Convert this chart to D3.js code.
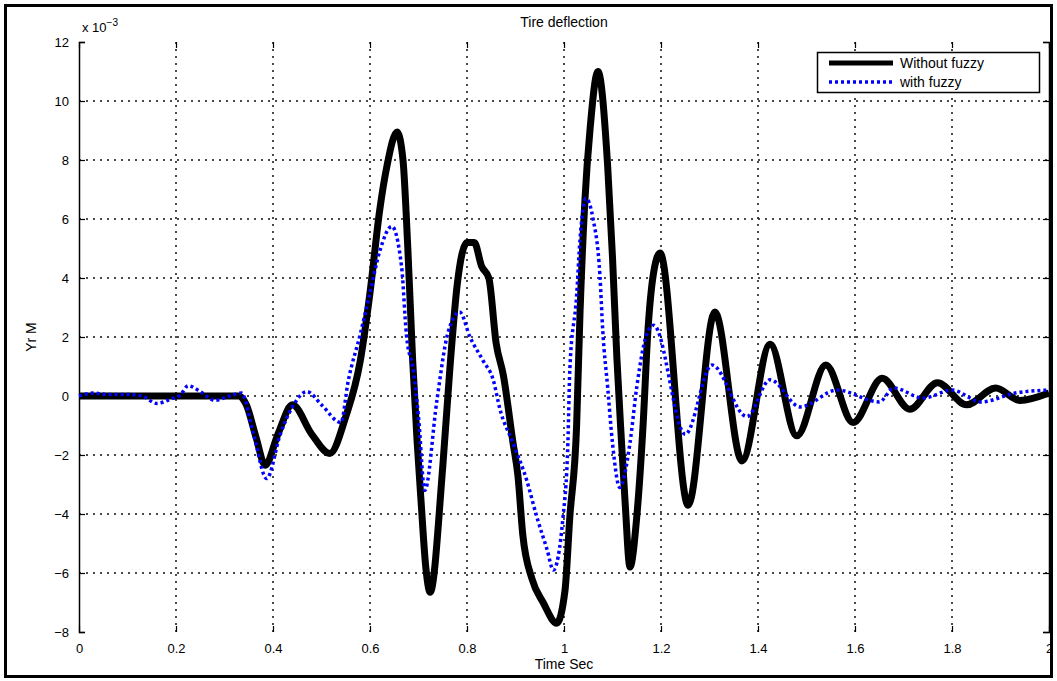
<!DOCTYPE html>
<html><head><meta charset="utf-8">
<script src="https://cdn.jsdelivr.net/npm/d3@7"></script>
<style>body{margin:0;background:#fff}svg{display:block}text{font-family:"Liberation Sans",Arial,sans-serif;fill:#000}</style>
</head><body><svg id="c" width="1057" height="681"></svg>
<script>
const titleText = "Tire deflection";
const xLabel = "Time Sec";
const yLabel = "Yr M";
const xTicks = [0,0.2,0.4,0.6,0.8,1,1.2,1.4,1.6,1.8,2];
const xTickLabels = ["0","0.2","0.4","0.6","0.8","1","1.2","1.4","1.6","1.8","2"];
const yTicks = [-8,-6,-4,-2,0,2,4,6,8,10,12];
const yTickLabels = ["\u22128","\u22126","\u22124","\u22122","0","2","4","6","8","10","12"];
const seriesNames = ["Without fuzzy","with fuzzy"];

const tBlack = [0,0.33,0.345,0.365,0.384,0.41,0.44,0.48,0.517,0.55,0.58,0.60,0.62,0.635,0.656,0.668,0.678,0.688,0.697,0.705,0.715,0.724,0.75,0.765,0.78,0.80,0.815,0.83,0.845,0.86,0.875,0.895,0.905,0.915,0.934,0.957,0.985,1.002,1.012,1.026,1.033,1.043,1.054,1.07,1.09,1.10,1.109,1.118,1.126,1.136,1.15,1.163,1.173,1.184,1.198,1.256,1.311,1.367,1.425,1.48,1.54,1.596,1.656,1.713,1.77,1.83,1.89,1.94,2.0];
const vBlack = [0,0,-0.3,-1.4,-2.35,-1.3,-0.3,-1.3,-1.95,-0.7,1.2,3.5,6.3,7.8,8.95,8.0,5.0,1.2,-1.5,-3.5,-5.8,-6.65,-2.4,1.0,3.8,5.2,5.2,4.4,4.0,1.8,0.7,-1.6,-2.7,-4.7,-6.2,-7.0,-7.7,-6.6,-4.1,-1.0,2.8,6.6,9.1,11.0,7.8,4.7,1.3,-1.4,-3.6,-5.8,-4.1,-1.0,2.2,4.1,4.85,-3.7,2.85,-2.2,1.75,-1.35,1.05,-0.9,0.6,-0.45,0.45,-0.3,0.27,-0.15,0.1];

const tBlue = [0,0.03,0.06,0.1,0.13,0.16,0.19,0.21,0.225,0.25,0.28,0.31,0.335,0.36,0.387,0.415,0.44,0.47,0.50,0.54,0.555,0.58,0.60,0.62,0.645,0.665,0.675,0.69,0.70,0.713,0.738,0.76,0.785,0.806,0.833,0.854,0.868,0.895,0.923,0.944,0.965,0.978,0.998,1.008,1.012,1.026,1.033,1.045,1.06,1.074,1.08,1.09,1.10,1.115,1.136,1.15,1.173,1.185,1.25,1.305,1.377,1.425,1.487,1.563,1.65,1.68,1.74,1.80,1.86,1.93,2.0];
const vBlue = [0,0.1,0.05,0.05,0,-0.25,-0.1,0.05,0.35,0.15,-0.15,0,0.1,-1.3,-2.8,-1.3,-0.37,0.15,-0.3,-0.9,0.5,2.1,3.5,4.9,5.75,4.4,2.1,0.8,-0.7,-3.2,-0.14,2.1,2.85,2.0,1.2,0.55,-0.45,-1.6,-2.85,-4.1,-5.2,-5.9,-4.1,-1.6,0.9,3.4,5.3,6.7,6.0,4.1,2.2,0.3,-1.6,-3.1,-1.6,0.3,2.2,2.4,-1.3,1.05,-0.7,0.55,-0.37,0.2,-0.2,0.27,-0.07,0.2,-0.2,0.1,0.2];

const svg = d3.select("#c");
const L = 79, R = 1049, T = 42, B = 632;
const x = d3.scaleLinear().domain([0,2]).range([L,R]);
const y = d3.scaleLinear().domain([-8,12]).range([B,T]);

// outer frame
svg.append("rect").attr("x",5.5).attr("y",5.5).attr("width",1046).attr("height",671)
  .attr("fill","none").attr("stroke","#000").attr("stroke-width",3);

// grid
const grid = svg.append("g").attr("stroke","#111").attr("stroke-width",1.5).attr("stroke-dasharray","2,5");
grid.selectAll(".gx").data(xTicks.slice(1,-1)).join("line")
  .attr("x1",d=>x(d)).attr("x2",d=>x(d)).attr("y1",T).attr("y2",B);
grid.selectAll(".gy").data(yTicks.slice(1,-1)).join("line")
  .attr("y1",d=>y(d)).attr("y2",d=>y(d)).attr("x1",L).attr("x2",R);

// axes
const axB = svg.append("g").attr("transform",`translate(0,${B})`)
  .call(d3.axisBottom(x).tickValues(xTicks).tickFormat((d,i)=>xTickLabels[i]).tickSize(-6).tickPadding(12));
const axL = svg.append("g").attr("transform",`translate(${L},0)`)
  .call(d3.axisLeft(y).tickValues(yTicks).tickFormat((d,i)=>yTickLabels[i]).tickSize(-6).tickPadding(10));
const axT = svg.append("g").attr("transform",`translate(0,${T})`)
  .call(d3.axisTop(x).tickValues(xTicks).tickFormat("").tickSize(-6));
const axR = svg.append("g").attr("transform",`translate(${R},0)`)
  .call(d3.axisRight(y).tickValues(yTicks).tickFormat("").tickSize(-6));
[axB,axT].forEach(a=>a.select(".domain").remove());
[axB,axL,axT,axR].forEach(a=>{
  a.selectAll("line").attr("stroke","#000").attr("stroke-width",1.2);
  a.select(".domain").attr("stroke","#000").attr("stroke-width",1.5);
  a.selectAll("text").style("font-size","13px").style("font-family","'Liberation Sans',Arial,sans-serif");
});

// lines
const lineGen = d3.line().x(d=>x(d[0])).y(d=>y(d[1])).curve(d3.curveMonotoneX);
const blackData = tBlack.map((t,i)=>[t,vBlack[i]]);
const blueData = tBlue.map((t,i)=>[t,vBlue[i]]);
svg.append("path").attr("d",lineGen(blackData)).attr("fill","none")
  .attr("stroke","#000").attr("stroke-width",7).attr("stroke-linejoin","round");
svg.append("path").attr("d",lineGen(blueData)).attr("fill","none")
  .attr("stroke","#0000ff").attr("stroke-width",3.5).attr("stroke-dasharray","3,3");

// title & labels
svg.append("text").attr("x",(L+R)/2).attr("y",27).attr("text-anchor","middle").style("font-size","14px").text(titleText);
svg.append("text").attr("x",(L+R)/2).attr("y",669).attr("text-anchor","middle").style("font-size","14px").text(xLabel);
svg.append("text").attr("transform",`translate(36,${(T+B)/2}) rotate(-90)`).attr("text-anchor","middle").style("font-size","14px").text(yLabel);
const ex = svg.append("text").attr("x",82).attr("y",32).style("font-size","13px");
ex.append("tspan").text("x 10");
ex.append("tspan").attr("dy",-6).style("font-size","10px").text("\u22123");

// legend
const lg = svg.append("g");
lg.append("rect").attr("x",817.5).attr("y",52.5).attr("width",222).attr("height",40)
  .attr("fill","#fff").attr("stroke","#000").attr("stroke-width",1.5);
lg.append("line").attr("x1",829).attr("x2",893).attr("y1",63).attr("y2",63).attr("stroke","#000").attr("stroke-width",5);
lg.append("line").attr("x1",829).attr("x2",893).attr("y1",82).attr("y2",82).attr("stroke","#0000ff").attr("stroke-width",3.5).attr("stroke-dasharray","3,3");
lg.append("text").attr("x",900).attr("y",68).style("font-size","14px").text(seriesNames[0]);
lg.append("text").attr("x",900).attr("y",87).style("font-size","14px").text(seriesNames[1]);
</script></body></html>
